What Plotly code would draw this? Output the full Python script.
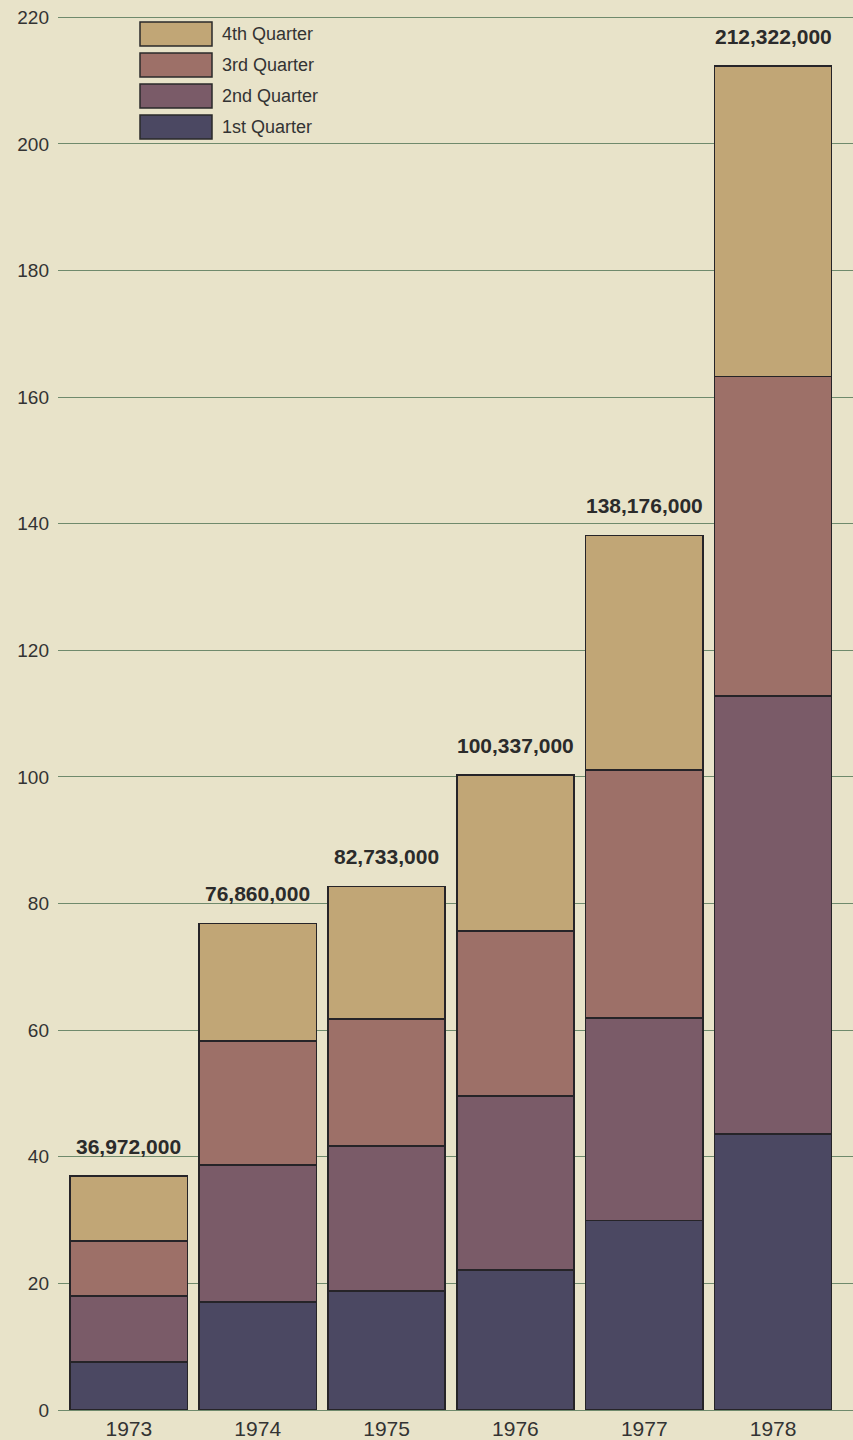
import plotly.graph_objects as go

years = ["1973", "1974", "1975", "1976", "1977", "1978"]
q1 = [7.6, 17.1, 18.8, 22.1, 29.9, 43.6]
q2 = [10.4, 21.6, 22.9, 27.5, 32.0, 69.2]
q3 = [8.7, 19.6, 20.1, 26.1, 39.2, 50.5]
q4 = [10.27, 18.56, 20.93, 24.64, 37.08, 49.02]
totals = [36.972, 76.860, 82.733, 100.337, 138.176, 212.322]
total_labels = ["36,972,000", "76,860,000", "82,733,000", "100,337,000", "138,176,000", "212,322,000"]
series_names = ["1st Quarter", "2nd Quarter", "3rd Quarter", "4th Quarter"]
colors = ["#4b4862", "#7a5b68", "#9d7068", "#c1a676"]
ytick_vals = [0, 20, 40, 60, 80, 100, 120, 140, 160, 180, 200, 220]

BG = "#e8e3c9"
FONT = "Liberation Sans, Arial, sans-serif"

fig = go.Figure()
for name, vals, col in zip(series_names, [q1, q2, q3, q4], colors):
    fig.add_trace(go.Bar(
        x=years, y=vals, name=name,
        marker=dict(color=col, line=dict(color="#262428", width=1.5)),
        showlegend=False,
    ))

for i, (tot, lab) in enumerate(zip(totals, total_labels)):
    fig.add_annotation(x=i, y=tot, xref="x", yref="y", text="<b>" + lab + "</b>",
                       showarrow=False, xanchor="center", yanchor="bottom", yshift=16,
                       font=dict(size=21, color="#2b2b2b", family=FONT))

# legend drawn manually (large swatches)
PH = 1399
T = 11
for i, (name, col) in enumerate(reversed(list(zip(series_names, colors)))):
    top_px = 22 + i * 31
    y1 = 1 - (top_px - T) / PH
    y0 = 1 - (top_px + 24 - T) / PH
    fig.add_shape(type="rect", xref="paper", yref="paper",
                  x0=(140 - 58) / 795, x1=(212 - 58) / 795, y0=y0, y1=y1,
                  fillcolor=col, line=dict(color="#2a2a2a", width=1.5), layer="above")
    fig.add_annotation(xref="paper", yref="paper", x=(220 - 58) / 795, y=(y0 + y1) / 2,
                       text=name, showarrow=False, xanchor="left", yanchor="middle",
                       font=dict(size=18, color="#333333", family=FONT))

fig.update_layout(
    width=853, height=1440,
    margin=dict(l=58, r=0, t=T, b=30),
    paper_bgcolor=BG, plot_bgcolor=BG,
    barmode="stack", bargap=0.09,
    font=dict(family=FONT, color="#333333"),
    xaxis=dict(type="category", range=[-0.55, 5.62], showgrid=False, showline=False, ticks="",
               tickfont=dict(size=21, color="#333333"), ticklabelstandoff=4),
    yaxis=dict(range=[0, 221], tickvals=ytick_vals, showgrid=True,
               gridcolor="#6f8a6c", gridwidth=1, zeroline=True, zerolinecolor="#6f8a6c",
               zerolinewidth=1, showline=False, ticks="",
               tickfont=dict(size=19, color="#333333"), ticklabelstandoff=8),
)

fig.write_html("out.html")
